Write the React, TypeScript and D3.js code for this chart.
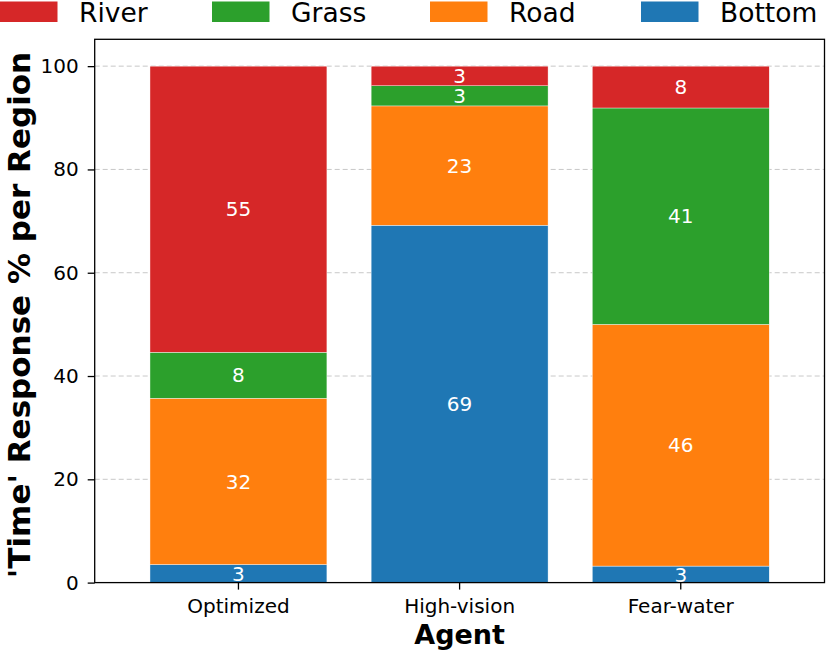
import React, { useEffect, useRef } from "react";
import * as d3 from "d3";

// data (percent of time per region)
const agents = ["Optimized", "High-vision", "Fear-water"];
const regions = ["Bottom", "Road", "Grass", "River"];
const bottomVals = [3.5, 69.2, 3.2];
const roadVals = [32.2, 23.1, 46.8];
const grassVals = [8.9, 3.9, 41.9];
const riverVals = [55.4, 3.8, 8.1];
const yTicks = [0, 20, 40, 60, 80, 100];
const legendOrder = ["River", "Grass", "Road", "Bottom"];

const colors: any = {
  Bottom: "#1f77b4",
  Road: "#ff7f0e",
  Grass: "#2ca02c",
  River: "#d62728",
};

const W = 830;
const H = 655;
const margin = { left: 94.7, right: 5.5, top: 39.3, bottom: 72.4 };
const font = "DejaVu Sans, sans-serif";

const App = () => {
  const ref = useRef(null);

  useEffect(() => {
    const svg = d3.select(ref.current);
    svg.html("");

    const table: any[] = agents.map((a, i) => ({
      agent: a,
      Bottom: bottomVals[i],
      Road: roadVals[i],
      Grass: grassVals[i],
      River: riverVals[i],
    }));
    const series = d3.stack().keys(regions)(table);

    const x: any = d3
      .scaleBand()
      .domain(agents)
      .range([margin.left, W - margin.right])
      .paddingInner(0.2)
      .paddingOuter(0.25);
    const y: any = d3
      .scaleLinear()
      .domain([0, 105.2])
      .range([H - margin.bottom, margin.top]);

    // grid
    svg
      .append("g")
      .selectAll("line")
      .data(yTicks.filter((t) => t > 0))
      .enter()
      .append("line")
      .attr("x1", margin.left)
      .attr("x2", W - margin.right)
      .attr("y1", (d: any) => y(d))
      .attr("y2", (d: any) => y(d))
      .style("stroke", "#b0b0b0")
      .style("stroke-opacity", 0.7)
      .style("stroke-width", 1)
      .style("stroke-dasharray", "5,3");

    // bars
    const layer = svg
      .append("g")
      .selectAll("g")
      .data(series)
      .enter()
      .append("g")
      .attr("fill", (d: any) => colors[d.key]);

    layer
      .selectAll("rect")
      .data((d: any) => d)
      .enter()
      .append("rect")
      .attr("x", (d: any) => x(d.data.agent))
      .attr("width", x.bandwidth())
      .attr("y", (d: any) => y(d[1]))
      .attr("height", (d: any) => y(d[0]) - y(d[1]))
      .style("stroke", "#ffffff")
      .style("stroke-width", 0.4);

    // value labels (truncated to int)
    layer
      .selectAll("text")
      .data((d: any) => d)
      .enter()
      .append("text")
      .attr("x", (d: any) => x(d.data.agent) + x.bandwidth() / 2)
      .attr("y", (d: any) => (y(d[0]) + y(d[1])) / 2)
      .attr("dy", "0.36em")
      .attr("text-anchor", "middle")
      .style("fill", "#ffffff")
      .style("font-family", font)
      .style("font-size", "20px")
      .text((d: any) => String(Math.floor(d[1] - d[0] + 1e-9)));

    // frame
    svg
      .append("rect")
      .attr("x", margin.left)
      .attr("y", margin.top)
      .attr("width", W - margin.left - margin.right)
      .attr("height", H - margin.top - margin.bottom)
      .style("fill", "none")
      .style("stroke", "#000")
      .style("stroke-width", 1.3);

    // y axis
    const yAxis = svg
      .append("g")
      .attr("transform", `translate(${margin.left},0)`)
      .call(d3.axisLeft(y).tickValues(yTicks).tickSize(7).tickPadding(9));
    yAxis.select(".domain").remove();
    yAxis.selectAll("line").style("stroke", "#000").style("stroke-width", 1.3);
    yAxis.selectAll("text").style("font-family", font).style("font-size", "20px").style("fill", "#000");

    // x axis
    const xAxis = svg
      .append("g")
      .attr("transform", `translate(0,${H - margin.bottom})`)
      .call(d3.axisBottom(x).tickSize(7).tickPadding(9));
    xAxis.select(".domain").remove();
    xAxis.selectAll("line").style("stroke", "#000").style("stroke-width", 1.3);
    xAxis.selectAll("text").style("font-family", font).style("font-size", "20px").style("fill", "#000");

    // axis titles
    svg
      .append("text")
      .attr("x", (margin.left + W - margin.right) / 2)
      .attr("y", 644)
      .attr("text-anchor", "middle")
      .style("font-family", font)
      .style("font-weight", "bold")
      .style("font-size", "27px")
      .text("Agent");

    svg
      .append("text")
      .attr("transform", "translate(30,315) rotate(-90)")
      .attr("text-anchor", "middle")
      .style("font-family", font)
      .style("font-weight", "bold")
      .style("font-size", "31px")
      .text("'Time' Response % per Region");

    // legend
    const legendX = [0, 212, 430, 641];
    const lg = svg
      .append("g")
      .selectAll("g")
      .data(legendOrder)
      .enter()
      .append("g")
      .attr("transform", (d: any, i: number) => `translate(${legendX[i]},0)`);
    lg.append("rect")
      .attr("x", 0)
      .attr("y", 1.5)
      .attr("width", 57.5)
      .attr("height", 20.5)
      .attr("fill", (d: any) => colors[d]);
    lg.append("text")
      .attr("x", 79)
      .attr("y", 21.7)
      .style("font-family", font)
      .style("font-size", "26.5px")
      .style("fill", "#000")
      .text((d: any) => d);
  }, []);

  return (
    <div style={{ position: "absolute", left: 0, top: 0 }}>
      <svg ref={ref} width={W} height={H} viewBox={`0 0 ${W} ${H}`} style={{ display: "block" }}></svg>
    </div>
  );
};

export default App;
